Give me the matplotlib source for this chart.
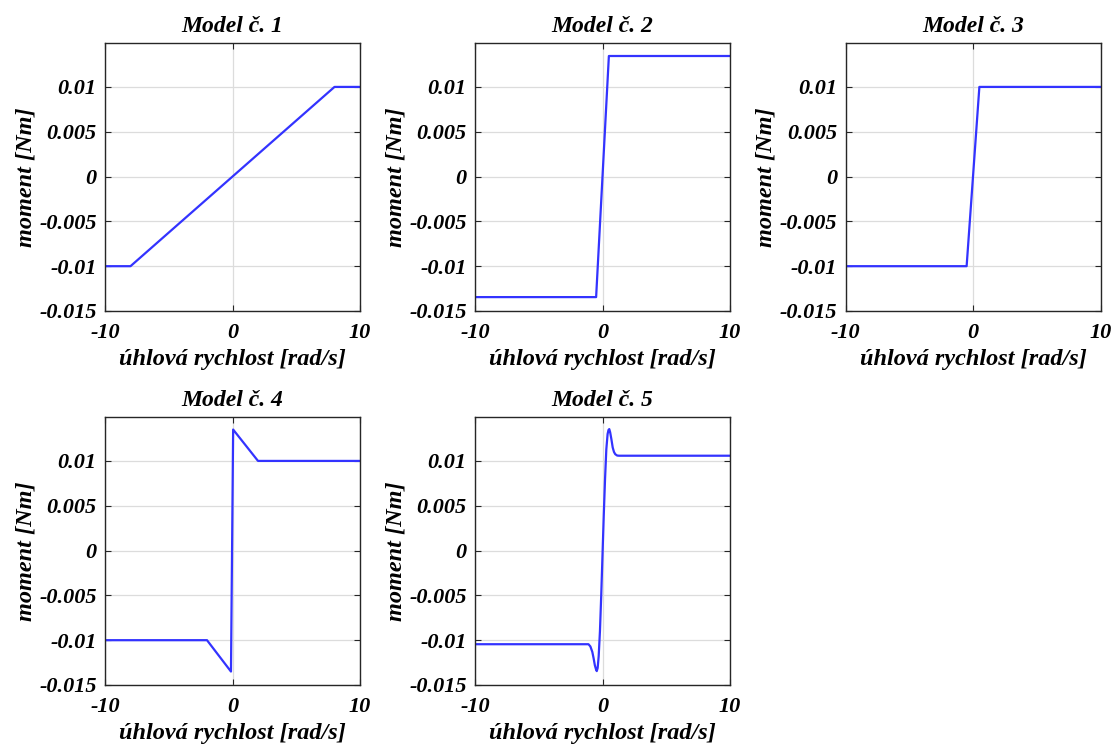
import matplotlib
matplotlib.use("Agg")
import matplotlib.pyplot as plt

plt.rcParams['font.family'] = ['Liberation Serif', 'DejaVu Serif']
plt.rcParams['font.weight'] = 'bold'
plt.rcParams['font.style'] = 'italic'
plt.rcParams['axes.titleweight'] = 'bold'
plt.rcParams['axes.labelweight'] = 'bold'

titles = ["Model č. 1", "Model č. 2", "Model č. 3", "Model č. 4", "Model č. 5"]
xlabel = "úhlová rychlost [rad/s]"
ylabel = "moment [Nm]"
xticks = [-10, 0, 10]
yticks = [-0.015, -0.01, -0.005, 0, 0.005, 0.01]
yticklabels = ["-0.015", "-0.01", "-0.005", "0", "0.005", "0.01"]
xticklabels = ["-10", "0", "10"]

# Model 1: saturated linear
x1 = [-10, -8, 8, 10]
y1 = [-0.01, -0.01, 0.01, 0.01]
# Model 2: steep linear with saturation at +-0.0134
x2 = [-10, -0.5, 0.5, 10]
y2 = [-0.01345, -0.01345, 0.01345, 0.01345]
# Model 3: steep linear with saturation at +-0.01
x3 = [-10, -0.5, 0.5, 10]
y3 = [-0.01, -0.01, 0.01, 0.01]
# Model 4: static + Stribeck-like linear peak
x4 = [-10, -2, -0.12, 0.05, 2, 10]
y4 = [-0.01, -0.01, -0.0135, 0.0135, 0.01, 0.01]
# Model 5: smooth Stribeck curve
x5 = [-10, -1.1, -0.95, -0.8, -0.7, -0.6, -0.5, -0.45, -0.38, -0.3, -0.2,
      -0.1, 0.0, 0.1, 0.2, 0.3, 0.4, 0.47, 0.53, 0.6, 0.7, 0.8, 0.9, 1.0,
      1.15, 1.3, 10]
y5 = [-0.01045, -0.01045, -0.0107, -0.0113, -0.0120, -0.0128, -0.0133,
      -0.01345, -0.0131, -0.0118, -0.0090, -0.0050, -0.0005, 0.0040, 0.0080,
      0.0113, 0.0130, 0.01345, 0.01355, 0.0132, 0.0124, 0.0115, 0.0110,
      0.01075, 0.0106, 0.01058, 0.01058]

xs = [x1, x2, x3, x4, x5]
ys = [y1, y2, y3, y4, y5]

W, H = 1114, 749
fig = plt.figure(figsize=(W / 100, H / 100), dpi=100)

lefts = [105, 475, 845.5]
tops = [43, 417]
aw, ah = 255, 268

fs_tick = 16
fs_lab = 17.5
fs_title = 17
edge = '#262626'
font = dict(family=['Liberation Serif', 'DejaVu Serif'], weight='bold', style='italic')
for i in range(5):
    r, c = divmod(i, 3)
    ax = fig.add_axes([lefts[c] / W, 1 - (tops[r] + ah) / H, aw / W, ah / H])
    ax.plot(xs[i], ys[i], color=(0.2, 0.2, 1.0), lw=1.6)
    ax.set_xlim(-10, 10)
    ax.set_ylim(-0.015, 0.0149)
    ax.set_xticks(xticks)
    ax.set_xticklabels(xticklabels, fontsize=fs_tick, **font)
    ax.set_yticks(yticks)
    ax.set_yticklabels(yticklabels, fontsize=fs_tick, **font)
    ax.grid(True, color='#dcdcdc', lw=0.9)
    ax.set_axisbelow(True)
    ax.tick_params(direction='in', length=4, width=0.8, color=edge,
                   top=True, right=True, pad=6)
    ax.tick_params(axis='x', pad=9)
    for s in ax.spines.values():
        s.set_color(edge)
        s.set_linewidth(1.0)
    ax.set_title(titles[i], fontsize=fs_title, pad=8, **font)
    ax.set_xlabel(xlabel, fontsize=fs_lab, labelpad=4, **font)
    ax.set_ylabel(ylabel, fontsize=fs_lab, labelpad=2, **font)

fig.savefig("out.png", dpi=100)
